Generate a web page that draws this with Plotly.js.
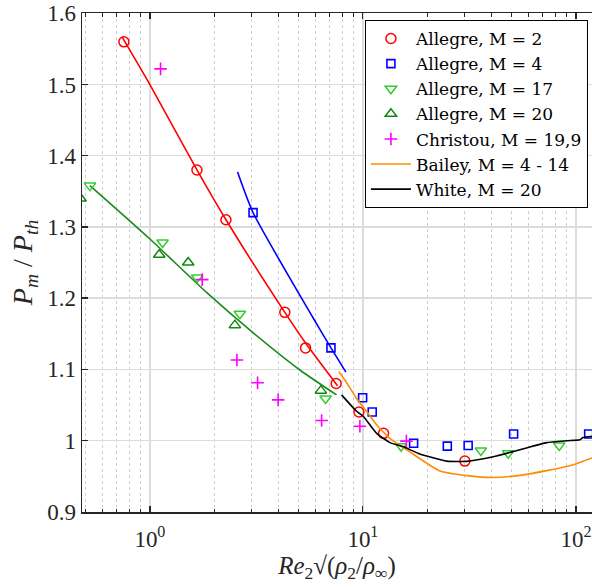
<!DOCTYPE html>
<html>
<head>
<meta charset="utf-8">
<script src="https://cdn.plot.ly/plotly-3.0.1.min.js"></script>
<style>html,body{margin:0;padding:0;background:#fff;}#chart{width:592px;height:587px;}</style>
</head>
<body>
<div id="chart"></div>
<script>
// ---- Data ----
const allegreM2_x = [0.755, 1.663, 2.275, 4.30, 5.38, 7.49, 9.58, 12.5, 30.1];
const allegreM2_y = [1.56, 1.38, 1.31, 1.18, 1.13, 1.08, 1.04, 1.01, 0.971];

const allegreM4_x = [3.05, 7.08, 9.97, 11.06, 17.3, 24.9, 31.2, 51.0, 114.8];
const allegreM4_y = [1.32, 1.13, 1.06, 1.04, 0.996, 0.992, 0.993, 1.009, 1.009];

const allegreM17_x = [0.523, 1.147, 1.667, 2.645, 6.68, 15.1, 35.8, 48.1, 83.5];
const allegreM17_y = [1.358, 1.278, 1.229, 1.178, 1.059, 0.992, 0.986, 0.982, 0.993];

const allegreM20_x = [0.473, 1.106, 1.513, 2.506, 6.35];
const allegreM20_y = [1.340, 1.261, 1.250, 1.162, 1.070];

const christou_x = [1.122, 1.761, 2.562, 3.203, 4.0, 6.40, 9.68, 16.0];
const christou_y = [1.522, 1.226, 1.113, 1.081, 1.057, 1.028, 1.020, 0.999];

const fitM2_x = [0.74, 1.0, 1.663, 2.275, 4.30, 5.38, 7.6];
const fitM2_y = [1.567, 1.50, 1.38, 1.31, 1.18, 1.137, 1.077];

const fitM4_x = [2.58, 3.05, 5.84, 7.08, 8.32];
const fitM4_y = [1.377, 1.32, 1.172, 1.13, 1.096];

const fitM20_x = [0.523, 1.0, 1.845, 2.95, 5.06, 7.52];
const fitM20_y = [1.358, 1.283, 1.208, 1.155, 1.099, 1.064];

const bailey_x = [7.7, 8.23, 9.34, 10.4, 11.6, 13.4, 16.6, 23.0, 30.7, 40.9, 54.6, 72.9, 97.1, 119];
const bailey_y = [1.097, 1.085, 1.059, 1.041, 1.022, 1.003, 0.984, 0.957, 0.9506, 0.948, 0.951, 0.9576, 0.966, 0.9755];

const white_x = [7.94, 9.34, 10.03, 11.6, 13.4, 15.5, 18.5, 24.7, 30.7, 40.9, 54.6, 72.9, 90.4, 104.4, 108, 119];
const white_y = [1.064, 1.041, 1.034, 1.010, 0.997, 0.991, 0.981, 0.971, 0.9706, 0.977, 0.987, 0.997, 0.9996, 1.001, 1.004, 1.006];

const xTickVals = [1, 10, 100];
const xTickText = ['10<sup>0</sup>', '10<sup>1</sup>', '10<sup>2</sup>'];
const yTickVals = [0.9, 1.0, 1.1, 1.2, 1.3, 1.4, 1.5, 1.6];
const yTickText = ['0.9', '1', '1.1', '1.2', '1.3', '1.4', '1.5', '1.6'];

// minor tick positions for the log axis
const xMinor = [];
[0.1, 1, 10].forEach(function (d) { for (let k = 2; k <= 9; k++) xMinor.push(k * d); });

const serif = 'Liberation Serif';
const legendSerif = 'DejaVu Serif';
const axisColor = '#262626';

const traces = [
  {x: fitM2_x, y: fitM2_y, mode: 'lines', line: {color: '#ff0000', width: 1.6, shape: 'spline', smoothing: 0.6}, showlegend: false, hoverinfo: 'skip'},
  {x: fitM4_x, y: fitM4_y, mode: 'lines', line: {color: '#0000ff', width: 1.6, shape: 'spline', smoothing: 0.6}, showlegend: false, hoverinfo: 'skip'},
  {x: fitM20_x, y: fitM20_y, mode: 'lines', line: {color: '#1a8a1a', width: 1.6, shape: 'spline', smoothing: 0.6}, showlegend: false, hoverinfo: 'skip'},
  {x: allegreM2_x, y: allegreM2_y, mode: 'markers', name: 'Allegre, M = 2',
   marker: {symbol: 'circle-open', size: 10, color: '#ff0000', line: {width: 1.5, color: '#ff0000'}}},
  {x: allegreM4_x, y: allegreM4_y, mode: 'markers', name: 'Allegre, M = 4',
   marker: {symbol: 'square-open', size: 8, color: '#0000ff', line: {width: 1.6, color: '#0000ff'}}},
  {x: allegreM17_x, y: allegreM17_y, mode: 'markers', name: 'Allegre, M = 17',
   marker: {symbol: 'triangle-down-open', size: 10, color: '#33cc33', line: {width: 1.5, color: '#33cc33'}}},
  {x: allegreM20_x, y: allegreM20_y, mode: 'markers', name: 'Allegre, M = 20',
   marker: {symbol: 'triangle-up-open', size: 10, color: '#118811', line: {width: 1.5, color: '#118811'}}},
  {x: christou_x, y: christou_y, mode: 'markers', name: 'Christou, M = 19,9',
   marker: {symbol: 'cross-thin-open', size: 9, color: '#ff00ff', line: {width: 1.6, color: '#ff00ff'}}},
  {x: bailey_x, y: bailey_y, mode: 'lines', name: 'Bailey, M = 4 - 14',
   line: {color: '#ff8c00', width: 1.6, shape: 'spline', smoothing: 0.5}},
  {x: white_x, y: white_y, mode: 'lines', name: 'White, M = 20',
   line: {color: '#000000', width: 1.6, shape: 'spline', smoothing: 0.5}}
];

const layout = {
  width: 592, height: 587,
  margin: {l: 82, r: 0, t: 13, b: 75, pad: 0},
  paper_bgcolor: '#ffffff', plot_bgcolor: '#ffffff',
  font: {family: serif, color: axisColor},
  showlegend: true,
  legend: {
    x: 0.992, xanchor: 'right', y: 0.986, yanchor: 'top',
    bgcolor: '#ffffff', bordercolor: '#000000', borderwidth: 1,
    font: {family: legendSerif, size: 17, color: '#000000'},
    tracegroupgap: 0, itemwidth: 40
  },
  xaxis: {
    type: 'log', range: [Math.log10(0.48), Math.log10(119)],
    tickmode: 'array', tickvals: xTickVals, ticktext: xTickText,
    ticks: 'inside', ticklen: 6, tickwidth: 1.2, tickcolor: axisColor,
    showline: true, linecolor: axisColor, linewidth: 1.5, mirror: 'ticks',
    showgrid: true, gridcolor: '#dcdcdc', gridwidth: 1.3,
    tickfont: {family: serif, size: 23, color: axisColor},
    ticklabeloverflow: 'allow', ticklabelstandoff: 6,
    minor: {tickmode: 'array', tickvals: xMinor, ticks: 'inside', ticklen: 3.5, tickcolor: axisColor, tickwidth: 1,
            showgrid: true, gridcolor: '#cfcfcf', griddash: 'dot', gridwidth: 1},
    zeroline: false,
    title: {text: '<i>Re</i><sub>2</sub>√(<i>ρ</i><sub>2</sub>/<i>ρ</i><sub>∞</sub>)', font: {family: serif, size: 25, color: axisColor}, standoff: 5}
  },
  yaxis: {
    range: [0.8995, 1.6005],
    tickmode: 'array', tickvals: yTickVals, ticktext: yTickText,
    ticks: 'inside', ticklen: 6, tickwidth: 1.2, tickcolor: axisColor,
    showline: true, linecolor: axisColor, linewidth: 1.5, mirror: false,
    showgrid: true, gridcolor: '#dcdcdc', gridwidth: 1.3,
    tickfont: {family: serif, size: 23, color: axisColor},
    ticklabeloverflow: 'allow',
    zeroline: false,
    title: {text: '<i>P<sub>m</sub></i> / <i>P<sub>th</sub></i>', font: {family: serif, size: 28, color: axisColor}, standoff: 6}
  }
};

Plotly.newPlot('chart', traces, layout, {displayModeBar: false, staticPlot: true});
</script>
</body>
</html>
